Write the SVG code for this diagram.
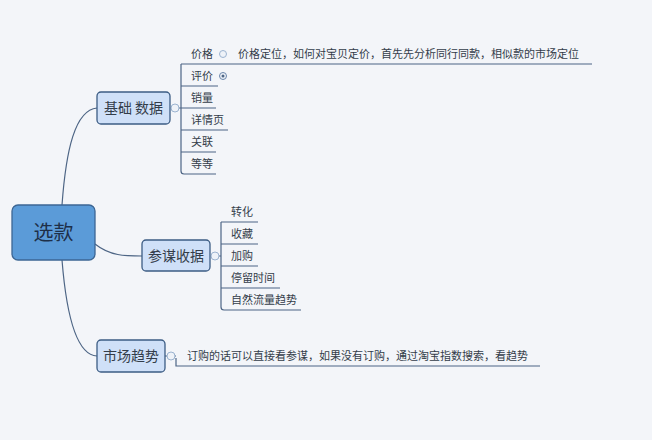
<svg xmlns="http://www.w3.org/2000/svg" width="652" height="440" viewBox="0 0 652 440">
<style>
text{font-family:"Noto Sans CJK SC","Noto Sans",sans-serif;fill:#333d4a}
.t{font-size:11px}
.n{font-size:14px}
.c{fill:none;stroke:#4d6585;stroke-width:1.2}
.box{fill:#cfe0f8;stroke:#3c5c84;stroke-width:1.3}
.tg{fill:#eef2f8;stroke:#9bb3d0;stroke-width:1}
</style>
<rect width="652" height="440" fill="#f3f5f9"/>
<g id="connectors">
<path class="c" d="M62 205 C66 150 75 110 97 108"/>
<path class="c" d="M95 244 C110 256 125 256 142 256"/>
<path class="c" d="M62 260 C66 310 75 355 97 356"/>
<path class="c" d="M181 64 V171 q0 3 3 3 H216 M181 64 H592 M181 86 H218 M181 108 H216 M181 130 H228 M181 152 H216"/>
<path class="c" d="M221 222 V307 q0 3 3 3 H301 M221 222 H258 M221 244 H258 M221 266 H258 M221 288 H280"/>
<path class="c" d="M176 358 V366 H540"/>
<path class="c" d="M170 108 H181 M210 256 H221 M165 356 H176"/>
</g>
<g id="n0"><rect x="12" y="205" width="83" height="55" rx="6" fill="#5b9bd8" stroke="#3c6694" stroke-width="1.3"/><text x="53.5" y="240" font-size="20" text-anchor="middle" style="fill:#1e2f48">选款</text></g>
<g id="n1"><rect class="box" x="97" y="92" width="73" height="32" rx="4"/><text class="n" x="133.5" y="113" text-anchor="middle">基础 数据</text><circle class="tg" cx="175" cy="108" r="4"/></g>
<g id="n2"><rect class="box" x="142" y="240" width="68" height="31" rx="4"/><text class="n" x="176" y="261" text-anchor="middle">参谋收据</text><circle class="tg" cx="215" cy="256" r="4"/></g>
<g id="n3"><rect class="box" x="97" y="340" width="68" height="32" rx="4"/><text class="n" x="131" y="361" text-anchor="middle">市场趋势</text><circle class="tg" cx="171" cy="356" r="4"/></g>
<g id="leaves">
<text class="t" x="191" y="58">价格</text><circle class="tg" cx="223" cy="54" r="3.5"/>
<text class="t" x="238" y="58">价格定位，如何对宝贝定价，首先先分析同行同款，相似款的市场定位</text>
<text class="t" x="191" y="80">评价</text><circle cx="223" cy="76" r="3.5" fill="#eef2f8" stroke="#6a86ab"/><circle cx="223" cy="76" r="1.5" fill="#4d6585"/>
<text class="t" x="191" y="102">销量</text>
<text class="t" x="191" y="124">详情页</text>
<text class="t" x="191" y="146">关联</text>
<text class="t" x="191" y="168">等等</text>
<text class="t" x="231" y="216">转化</text>
<text class="t" x="231" y="238">收藏</text>
<text class="t" x="231" y="260">加购</text>
<text class="t" x="231" y="282">停留时间</text>
<text class="t" x="231" y="304">自然流量趋势</text>
<text class="t" x="187" y="360">订购的话可以直接看参谋，如果没有订购，通过淘宝指数搜索，看趋势</text>
</g>
</svg>
